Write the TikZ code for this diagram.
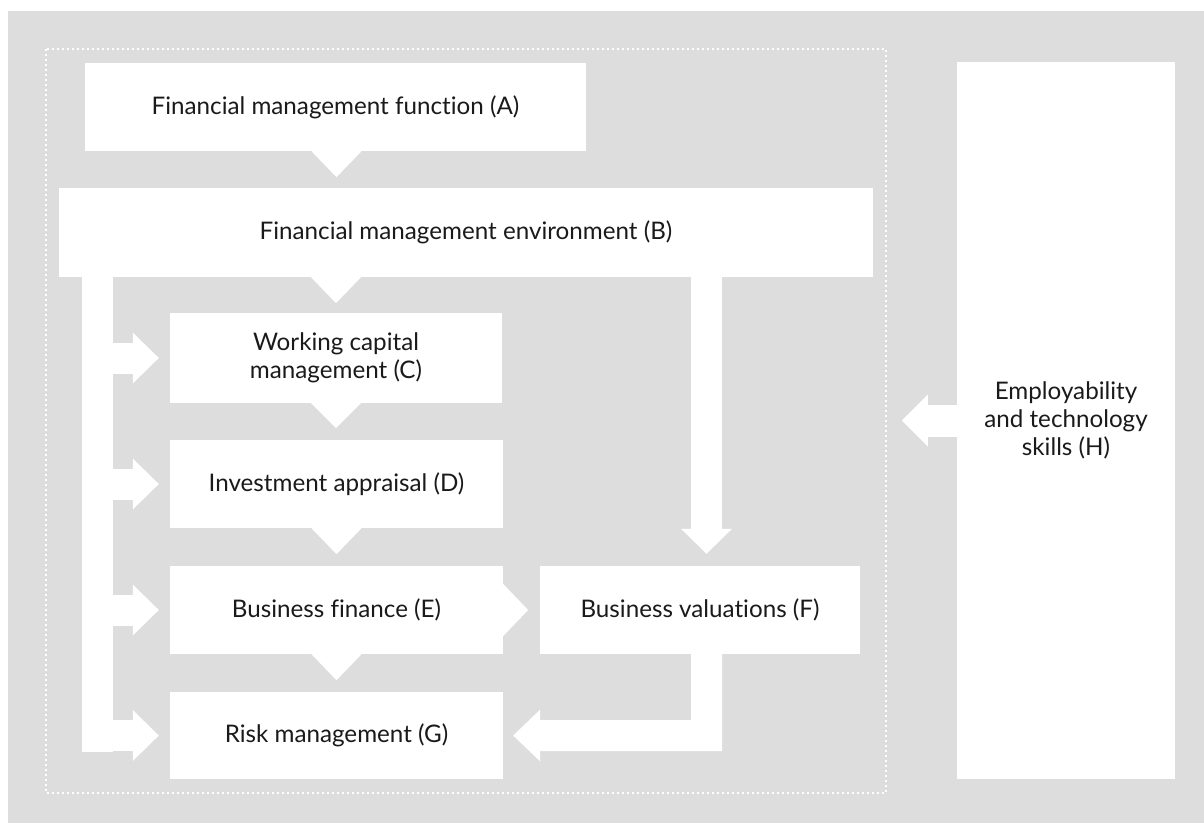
\documentclass[tikz,border=0pt]{standalone}
\usepackage{fontspec}
\setmainfont{Lato}[Ligatures={NoCommon,NoRare}]
\usetikzlibrary{calc}
\definecolor{bg}{HTML}{DCDDDC}
\definecolor{txt}{HTML}{1A1A1A}
\begin{document}
\begin{tikzpicture}[x=1pt,y=-1pt,
  box/.style={fill=white, inner sep=0pt, text=txt, align=center,
    font=\fontsize{24.2}{28}\selectfont},
  arr/.style={fill=white},
  dots/.style={draw=white, line width=2pt, dash pattern=on 2pt off 3pt}]
\useasboundingbox (0,0) rectangle (1204,823);
\fill[bg] (8,11) rectangle (1204,823);
\draw[dots] (46,49) rectangle (886,793);

% boxes
\node[box, minimum width=501pt, minimum height=88pt] (A) at (335.5,107) {Financial management function (A)};
\node[box, minimum width=814pt, minimum height=89pt] (B) at (466,232.5) {Financial management environment (B)};
\node[box, minimum width=332pt, minimum height=90pt] (C) at (336,358) {Working capital\\management (C)};
\node[box, minimum width=333pt, minimum height=88pt] (D) at (336.5,484) {Investment appraisal (D)};
\node[box, minimum width=333pt, minimum height=88pt] (E) at (336.5,610) {Business finance (E)};
\node[box, minimum width=320pt, minimum height=88pt] (F) at (700,610) {Business valuations (F)};
\node[box, minimum width=333pt, minimum height=87pt] (G) at (336.5,735.5) {Risk management (G)};
\node[box, minimum width=218pt, minimum height=717pt] (H) at (1066,420.5) {Employability\\and technology\\skills (H)};

% downward triangles
\fill[arr] ($(A.south)+(-24,0)$) -- ($(A.south)+(26,0)$) -- ($(A.south)+(1,26)$) -- cycle;
\coordinate (bc) at (C.north |- B.south);
\fill[arr] ($(bc)+(-25,0)$) -- ($(bc)+(25,0)$) -- ($(bc)+(0,26)$) -- cycle;
\fill[arr] ($(C.south)+(-25,0)$) -- ($(C.south)+(25,0)$) -- ($(C.south)+(0,25)$) -- cycle;
\fill[arr] ($(D.south)+(-25,0)$) -- ($(D.south)+(25,0)$) -- ($(D.south)+(0,26)$) -- cycle;
\fill[arr] ($(E.south)+(-25,0)$) -- ($(E.south)+(25,0)$) -- ($(E.south)+(0,26)$) -- cycle;

% E -> F
\fill[arr] ($(E.east)+(0,-26)$) -- ($(E.east)+(25,0)$) -- ($(E.east)+(0,26)$) -- cycle;

% left bar with branches
\fill[arr] ($(C.west |- B.south)+(-88,0)$) rectangle ($(G.west)+(-57,16)$);
\foreach \n in {C,D,E,G} {
  \fill[arr] ($(\n.west)+(-57,-15.5)$) rectangle ($(\n.west)+(-37,15.5)$);
  \fill[arr] ($(\n.west)+(-37,-25.5)$) -- ($(\n.west)+(-11,0)$) -- ($(\n.west)+(-37,25.5)$) -- cycle;
}

% B -> F
\coordinate (bf) at (706.5,0);
\fill[arr] ($(bf |- B.south)+(-15.5,0)$) rectangle ($(bf |- F.north)+(15.5,-37)$);
\fill[arr] ($(bf |- F.north)+(-25.5,-37)$) -- ($(bf |- F.north)+(25.5,-37)$) -- ($(bf |- F.north)+(0,-12)$) -- cycle;

% F -> G
\fill[arr] ($(bf |- F.south)+(-15.5,0)$) -- ($(bf |- F.south)+(15.5,0)$)
  -- ($(bf |- G.east)+(15.5,15.5)$) -- ($(G.east)+(37,15.5)$)
  -- ($(G.east)+(37,26)$) -- ($(G.east)+(10,0)$) -- ($(G.east)+(37,-26)$)
  -- ($(G.east)+(37,-15.5)$) -- ($(bf |- G.east)+(-15.5,-15.5)$) -- cycle;

% H -> left
\fill[arr] ($(H.west)+(0,-16)$) rectangle ($(H.west)+(-29,16)$);
\fill[arr] ($(H.west)+(-29,-26)$) -- ($(H.west)+(-55,0)$) -- ($(H.west)+(-29,26)$) -- cycle;
\end{tikzpicture}
\end{document}
